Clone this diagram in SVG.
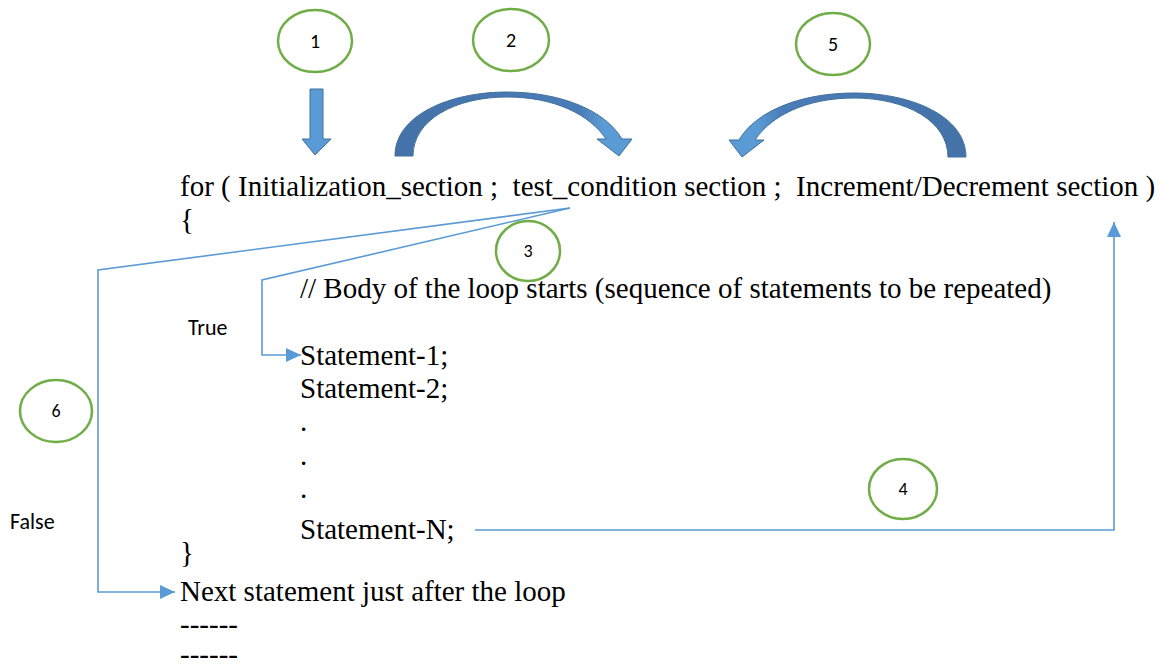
<svg xmlns="http://www.w3.org/2000/svg" width="1170" height="664" viewBox="0 0 1170 664">
  <style>
    .code { font-family: "Liberation Serif", "Times New Roman", serif; font-size: 29px; fill: #000; white-space: pre; }
    .lbl { font-family: "Carlito", "Liberation Sans", "Open Sans", sans-serif; font-size: 22px; fill: #000; }
    .num { font-family: "Carlito", "Liberation Sans", "Open Sans", sans-serif; font-size: 20px; fill: #000; text-anchor: middle; }
    .sm { font-size: 18px; }
    .circ { fill: #fff; stroke: #70AD47; stroke-width: 2.5; }
    .conn { fill: none; stroke: #5B9BD5; stroke-width: 1.6; }
    .bigarrow { stroke: #41719C; stroke-width: 1; }
  </style>
  <defs>
    <marker id="ah" markerUnits="userSpaceOnUse" markerWidth="16" markerHeight="14" refX="15" refY="7" orient="auto">
      <path d="M0,0 L15,7 L0,14 Z" fill="#5B9BD5"/>
    </marker>
    <linearGradient id="g2" x1="395" y1="0" x2="632" y2="0" gradientUnits="userSpaceOnUse">
      <stop offset="0" stop-color="#4472A8"/>
      <stop offset="0.78" stop-color="#4A7DB8"/>
      <stop offset="0.88" stop-color="#5B9BD5"/>
      <stop offset="1" stop-color="#5B9BD5"/>
    </linearGradient>
  </defs>

  <!-- Big arrows -->
  <g id="arrow1">
    <path class="bigarrow" fill="#5B9BD5" d="M310,89 L323,89 L323,139 L331,139 L315,155 L302,139 L310,139 Z"/>
  </g>
  <g id="arrow2">
    <path class="bigarrow" fill="url(#g2)" d="M395,156 C395,115 450,92 507,92 C560,92 605,110 622,139 L632,139 L619,156 L597,139 L606,139 C590,115 555,97 507,97 C455,97 413,120 413,156 Z"/>
  </g>
  <g id="arrow5" transform="translate(1361,1) scale(-1,1)">
    <path class="bigarrow" fill="url(#g2)" d="M395,156 C395,115 450,92 507,92 C560,92 605,110 622,139 L632,139 L619,156 L597,139 L606,139 C590,115 555,97 507,97 C455,97 413,120 413,156 Z"/>
  </g>

  <!-- Code text -->
  <g id="code">
    <text class="code" x="180" y="196">for ( Initialization_section ;  test_condition section ;  Increment/Decrement section )</text>
    <text class="code" x="180" y="229">{</text>
    <text class="code" x="300" y="298">// Body of the loop starts (sequence of statements to be repeated)</text>
    <text class="code" x="300" y="365">Statement-1;</text>
    <text class="code" x="300" y="398">Statement-2;</text>
    <text class="code" x="300" y="431">.</text>
    <text class="code" x="300" y="465">.</text>
    <text class="code" x="300" y="498">.</text>
    <text class="code" x="300" y="539">Statement-N;</text>
    <text class="code" x="180" y="562">}</text>
    <text class="code" x="180" y="601">Next statement just after the loop</text>
    <text class="code" x="180" y="634">------</text>
    <text class="code" x="180" y="664">------</text>
  </g>

  <!-- Connectors -->
  <g id="connectors">
    <polyline class="conn" points="570,208 98,270 98,592 175,592" marker-end="url(#ah)"/>
    <polyline class="conn" points="570,208 262,280 262,355 301,355" marker-end="url(#ah)"/>
    <polyline class="conn" points="475,530 1114,530 1114,222" marker-end="url(#ah)"/>
  </g>

  <!-- Labels -->
  <g id="label-true"><text class="lbl" x="188" y="335">True</text></g>
  <g id="label-false"><text class="lbl" x="10" y="529">False</text></g>

  <!-- Numbered circles -->
  <g id="step1"><ellipse class="circ" cx="315" cy="41" rx="37" ry="31"/><text class="num" x="315" y="48">1</text></g>
  <g id="step2"><ellipse class="circ" cx="511" cy="40" rx="38" ry="31"/><text class="num" x="511" y="47">2</text></g>
  <g id="step5"><ellipse class="circ" cx="833" cy="44" rx="37" ry="31"/><text class="num" x="833" y="51">5</text></g>
  <g id="step3"><ellipse class="circ" cx="528" cy="251" rx="32" ry="30"/><text class="num sm" x="528" y="257">3</text></g>
  <g id="step4"><ellipse class="circ" cx="903" cy="489" rx="34" ry="30"/><text class="num sm" x="903" y="495">4</text></g>
  <g id="step6"><ellipse class="circ" cx="56" cy="411" rx="36" ry="31"/><text class="num sm" x="56" y="417">6</text></g>
</svg>
